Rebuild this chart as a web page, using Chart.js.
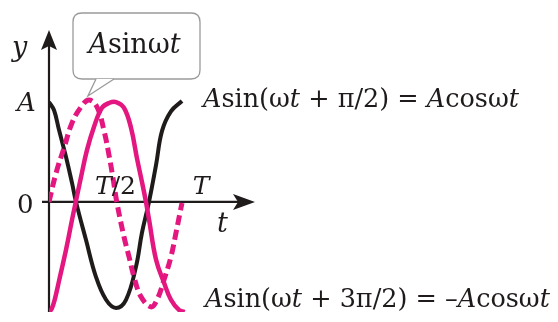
<!DOCTYPE html>
<html>
<head>
<meta charset="utf-8">
<style>
  html, body { margin: 0; padding: 0; background: #ffffff; }
  #wrap { width: 558px; height: 322px; }
</style>
<script src="https://cdn.jsdelivr.net/npm/chart.js@4/dist/chart.umd.min.js"></script>
</head>
<body>
<div id="wrap"><canvas id="c" width="558" height="322"></canvas></div>
<script>
// Time in units of the period T, displacement in units of the amplitude A.
const cosT = [0, 0.038, 0.075, 0.128, 0.173, 0.203, 0.278, 0.353, 0.429, 0.504, 0.579, 0.654, 0.699, 0.752, 0.805, 0.85, 0.917, 1.0];
const cosY = [0.97, 0.89, 0.70, 0.437, 0.184, 0.0, -0.369, -0.728, -0.951, -1.03, -0.951, -0.631, -0.30, 0.0, 0.36, 0.69, 0.88, 0.98];

const sinT = [0, 0.053, 0.113, 0.173, 0.241, 0.30, 0.361, 0.414, 0.451, 0.481, 0.511, 0.564, 0.602, 0.639, 0.692, 0.767, 0.812, 0.865, 0.917, 0.955, 1.0];
const sinY = [0, 0.28, 0.524, 0.767, 0.922, 0.99, 0.922, 0.69, 0.456, 0.233, -0.01, -0.34, -0.534, -0.728, -0.922, -1.02, -0.951, -0.757, -0.534, -0.30, -0.01];

const negCosT = [0, 0.02, 0.045, 0.075, 0.128, 0.173, 0.203, 0.241, 0.286, 0.338, 0.398, 0.451, 0.504, 0.564, 0.617, 0.662, 0.699, 0.729, 0.752, 0.805, 0.865, 0.917, 0.977, 1.02];
const negCosY = [-1.07, -1.04, -0.94, -0.77, -0.466, -0.175, 0.01, 0.243, 0.505, 0.728, 0.913, 0.961, 0.97, 0.913, 0.718, 0.42, 0.194, 0, -0.17, -0.563, -0.786, -0.951, -1.05, -1.07];

// Axis tick labels: [value, text runs]
const xTicks = [[0.5, [['T', true], ['/2', false]]], [1.0, [['T', true]]]];
const yTicks = [[1, [['A', true]]], [0, [['0', false]]]];

// Curve captions (rich text runs: [text, italic])
const sinCaption = [['A', true], ['sin', false], ['ω', false], ['t', true]];
const cosCaption = [['A', true], ['sin(', false], ['ω', false], ['t', true], [' + π/2) = ', false], ['A', true], ['cos', false], ['ω', false], ['t', true]];
const negCosCaption = [['A', true], ['sin(', false], ['ω', false], ['t', true], [' + 3π/2) = –', false], ['A', true], ['cos', false], ['ω', false], ['t', true]];

const PINK = '#e3177f';
const INK = '#1f1b1b';
const SERIF = '"DejaVu Serif", "Liberation Serif", serif';

function toPoints(xs, ys) { return xs.map((x, i) => ({ x: x, y: ys[i] })); }

function runFont(italic, size) { return (italic ? 'italic ' : '') + size + 'px ' + SERIF; }

function runsWidth(ctx, runs, size) {
  let w = 0;
  for (const [t, it] of runs) { ctx.font = runFont(it, size); w += ctx.measureText(t).width; }
  return w;
}

function drawRuns(ctx, x, y, runs, size, align) {
  let cx = x;
  if (align === 'center') cx = x - runsWidth(ctx, runs, size) / 2;
  ctx.textBaseline = 'alphabetic';
  ctx.textAlign = 'left';
  ctx.fillStyle = INK;
  for (const [t, it] of runs) {
    ctx.font = runFont(it, size);
    ctx.fillText(t, cx, y);
    cx += ctx.measureText(t).width;
  }
}

function roundRect(ctx, x, y, w, h, r) {
  ctx.beginPath();
  ctx.moveTo(x + r, y);
  ctx.lineTo(x + w - r, y);
  ctx.quadraticCurveTo(x + w, y, x + w, y + r);
  ctx.lineTo(x + w, y + h - r);
  ctx.quadraticCurveTo(x + w, y + h, x + w - r, y + h);
  ctx.lineTo(x + r, y + h);
  ctx.quadraticCurveTo(x, y + h, x, y + h - r);
  ctx.lineTo(x, y + r);
  ctx.quadraticCurveTo(x, y, x + r, y);
  ctx.closePath();
}

const axesPlugin = {
  id: 'arrowAxes',
  beforeDatasetsDraw(chart) {
    const ctx = chart.ctx;
    const xs = chart.scales.x, ys = chart.scales.y;
    const x0 = xs.getPixelForValue(0), y0 = ys.getPixelForValue(0);
    const xEnd = xs.right, yTop = ys.top, yBot = ys.bottom;
    ctx.save();
    ctx.strokeStyle = INK;
    ctx.fillStyle = INK;
    ctx.lineWidth = 2.2;
    // vertical axis
    ctx.beginPath();
    ctx.moveTo(x0, yBot);
    ctx.lineTo(x0, yTop + 14);
    ctx.stroke();
    ctx.beginPath();
    ctx.moveTo(x0, yTop);
    ctx.lineTo(x0 - 8, yTop + 20);
    ctx.lineTo(x0, yTop + 16);
    ctx.lineTo(x0 + 8, yTop + 20);
    ctx.closePath();
    ctx.fill();
    // horizontal axis
    ctx.beginPath();
    ctx.moveTo(x0 - 7, y0);
    ctx.lineTo(xEnd - 14, y0);
    ctx.stroke();
    ctx.beginPath();
    ctx.moveTo(xEnd, y0);
    ctx.lineTo(xEnd - 22, y0 - 8);
    ctx.lineTo(xEnd - 17, y0);
    ctx.lineTo(xEnd - 22, y0 + 8);
    ctx.closePath();
    ctx.fill();
    ctx.restore();
  },
  afterDraw(chart) {
    const ctx = chart.ctx;
    const xs = chart.scales.x, ys = chart.scales.y;
    const y0 = ys.getPixelForValue(0);
    ctx.save();
    // axis names
    drawRuns(ctx, 12, 56, [['y', true]], 27, 'left');
    drawRuns(ctx, 217, 232, [['t', true]], 27, 'left');
    // tick labels
    for (const [v, runs] of yTicks) {
      drawRuns(ctx, 17, ys.getPixelForValue(v) + (v === 0 ? 11 : 12), runs, 26, 'left');
    }
    for (const [v, runs] of xTicks) {
      const px = xs.getPixelForValue(v) + (v === 1 ? 19 : 0);
      drawRuns(ctx, px, y0 - 8, runs, 25, 'center');
    }
    // callout for the sine curve, pointing at its crest
    const peakIdx = sinY.indexOf(Math.max(...sinY));
    const tipX = xs.getPixelForValue(sinT[peakIdx]) - 1;
    const tipY = ys.getPixelForValue(sinY[peakIdx]) - 4;
    const bx = 73, by = 13, bw = 127, bh = 66;
    ctx.lineWidth = 1.3;
    ctx.strokeStyle = '#9a9a9a';
    ctx.fillStyle = '#ffffff';
    roundRect(ctx, bx, by, bw, bh, 9);
    ctx.fill();
    ctx.stroke();
    ctx.beginPath();
    ctx.moveTo(96, by + bh);
    ctx.lineTo(tipX, tipY);
    ctx.lineTo(114, by + bh);
    ctx.closePath();
    ctx.fill();
    ctx.beginPath();
    ctx.moveTo(96, by + bh);
    ctx.lineTo(tipX, tipY);
    ctx.lineTo(114, by + bh);
    ctx.stroke();
    drawRuns(ctx, bx + bw / 2 - 2, 53, sinCaption, 27, 'center');
    // equation captions
    drawRuns(ctx, 203, 107, cosCaption, 25.5, 'left');
    drawRuns(ctx, 205, 307, negCosCaption, 25.5, 'left');
    ctx.restore();
  }
};

const lineStyle = { showLine: true, pointRadius: 0, tension: 0.4 };

new Chart(document.getElementById('c'), {
  type: 'scatter',
  data: {
    datasets: [
      Object.assign({
        label: 'A cos ωt',
        data: toPoints(cosT, cosY),
        borderColor: INK,
        borderWidth: 4,
        order: 3
      }, lineStyle),
      Object.assign({
        label: '−A cos ωt',
        data: toPoints(negCosT, negCosY),
        borderColor: PINK,
        borderWidth: 4.5,
        order: 2
      }, lineStyle),
      Object.assign({
        label: 'A sin ωt',
        data: toPoints(sinT, sinY),
        borderColor: PINK,
        borderWidth: 5,
        borderDash: [10, 5],
        order: 1
      }, lineStyle)
    ]
  },
  options: {
    responsive: false,
    animation: false,
    layout: { padding: { left: 49, right: 303, top: 30, bottom: 10 } },
    plugins: { legend: { display: false }, tooltip: { enabled: false } },
    scales: {
      x: { type: 'linear', min: 0, max: 1.549, display: false },
      y: { type: 'linear', min: -1.07, max: 1.67, display: false }
    }
  },
  plugins: [axesPlugin]
});
</script>
</body>
</html>
